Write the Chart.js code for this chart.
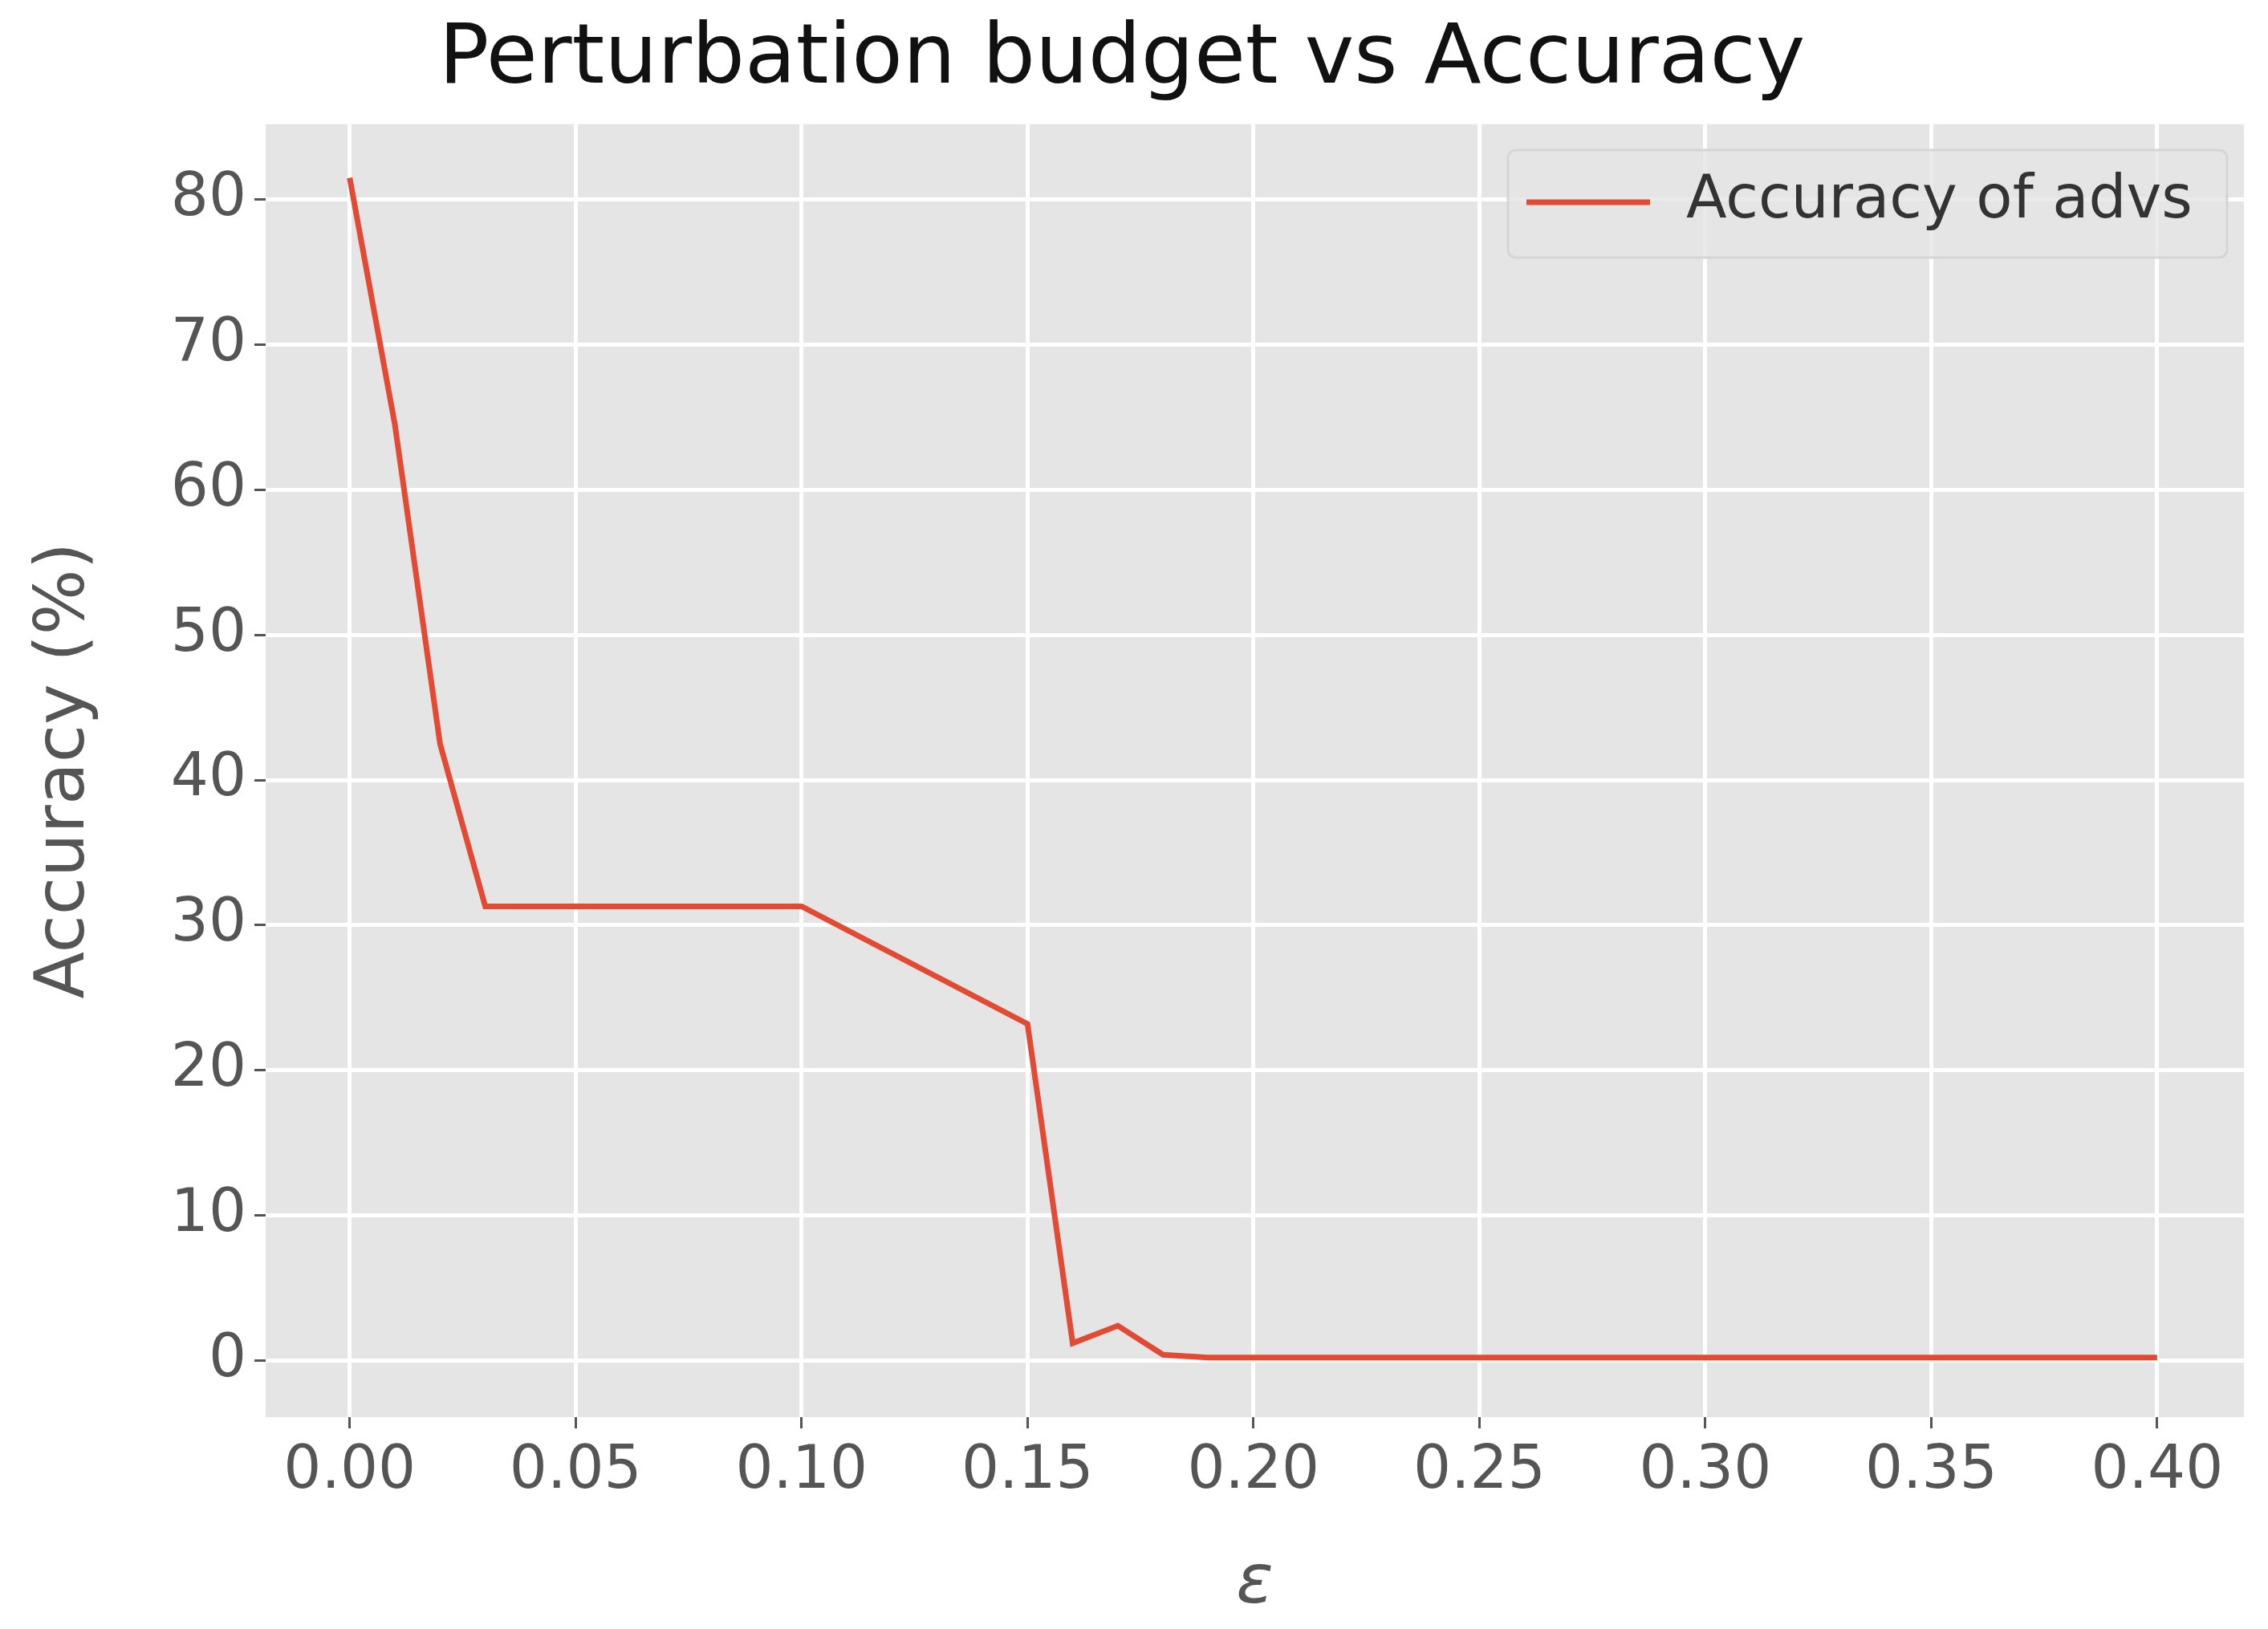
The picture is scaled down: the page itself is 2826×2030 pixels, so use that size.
<!DOCTYPE html>
<html>
<head>
<meta charset="utf-8">
<script src="https://cdn.jsdelivr.net/npm/chart.js@4"></script>
<style>
  body { margin: 0; background: #fff; }
  canvas { display: block; }
</style>
</head>
<body>
<canvas id="c" width="2826" height="2030"></canvas>
<script>
// epsilon values and accuracy
const epsilons = [0, 0.01, 0.02, 0.03, 0.10, 0.15, 0.16, 0.17, 0.18, 0.19, 0.20, 0.25, 0.30, 0.35, 0.40];
const accuracy = [81.5, 64.5, 42.5, 31.3, 31.3, 23.2, 1.2, 2.4, 0.4, 0.2, 0.2, 0.2, 0.2, 0.2, 0.2];
const seriesLabel = 'Accuracy of advs';
const tickFont = { family: 'DejaVu Sans', size: 74 };

const plotBg = {
    id: 'plotBg',
    beforeDraw(chart) {
        const a = chart.chartArea, ctx = chart.ctx;
        ctx.save();
        ctx.fillStyle = '#e5e5e5';
        ctx.fillRect(a.left, a.top, a.right - a.left, a.bottom - a.top);
        ctx.restore();
    }
};

// matplotlib-style legend box in upper right
const legendBox = {
    id: 'legendBox',
    afterDraw(chart) {
        const ctx = chart.ctx;
        const x = 1879, y = 187, w = 896, h = 134;
        ctx.save();
        ctx.fillStyle = 'rgba(229,229,229,0.8)';
        ctx.strokeStyle = '#d5d5d5';
        ctx.lineWidth = 3;
        ctx.beginPath();
        ctx.roundRect(x, y, w, h, 10);
        ctx.fill();
        ctx.stroke();
        ctx.strokeStyle = '#e24a33';
        ctx.lineWidth = 7;
        ctx.beginPath();
        ctx.moveTo(1902, 252);
        ctx.lineTo(2056, 252);
        ctx.stroke();
        ctx.fillStyle = '#333';
        ctx.font = '74px "DejaVu Sans"';
        ctx.textBaseline = 'middle';
        ctx.fillText(seriesLabel, 2101, 252);
        ctx.restore();
    }
};

new Chart(document.getElementById('c'), {
    type: 'line',
    data: {
        datasets: [{
            label: seriesLabel,
            data: epsilons.map((e, i) => ({ x: e, y: accuracy[i] })),
            borderColor: '#e24a33',
            borderWidth: 7,
            pointRadius: 0,
            tension: 0
        }]
    },
    options: {
        responsive: false,
        animation: false,
        layout: { padding: { left: 0, right: 30, top: 0, bottom: 0 } },
        plugins: {
            legend: { display: false },
            tooltip: { enabled: false },
            title: {
                display: true,
                text: 'Perturbation budget vs Accuracy',
                color: '#111',
                font: { family: 'DejaVu Sans', size: 104, weight: 'normal' },
                padding: { top: 14, bottom: 16 }
            }
        },
        scales: {
            x: {
                type: 'linear',
                min: -0.0186,
                max: 0.4192,
                afterBuildTicks(s) {
                    s.ticks = [0, 0.05, 0.1, 0.15, 0.2, 0.25, 0.3, 0.35, 0.4].map(v => ({ value: v }));
                },
                afterFit(s) { s.height = 264; },
                ticks: { color: '#555', font: tickFont, padding: 10, callback: v => v.toFixed(2) },
                grid: { color: '#fff', lineWidth: 5, tickColor: '#555', tickLength: 14, tickWidth: 3 },
                border: { display: false },
                title: { display: true, text: 'ε', color: '#555', font: { family: 'DejaVu Sans', size: 86, style: 'italic' }, padding: { top: 0 } }
            },
            y: {
                min: -3.9,
                max: 85.2,
                afterBuildTicks(s) {
                    s.ticks = [0, 10, 20, 30, 40, 50, 60, 70, 80].map(v => ({ value: v }));
                },
                afterFit(s) { s.width = 331; },
                ticks: { color: '#555', font: tickFont, padding: 10 },
                grid: { color: '#fff', lineWidth: 5, tickColor: '#555', tickLength: 14, tickWidth: 3 },
                border: { display: false },
                title: { display: true, text: 'Accuracy (%)', color: '#555', font: { family: 'DejaVu Sans', size: 86 }, padding: { top: 30, bottom: 0 } }
            }
        }
    },
    plugins: [plotBg, legendBox]
});
</script>
</body>
</html>
